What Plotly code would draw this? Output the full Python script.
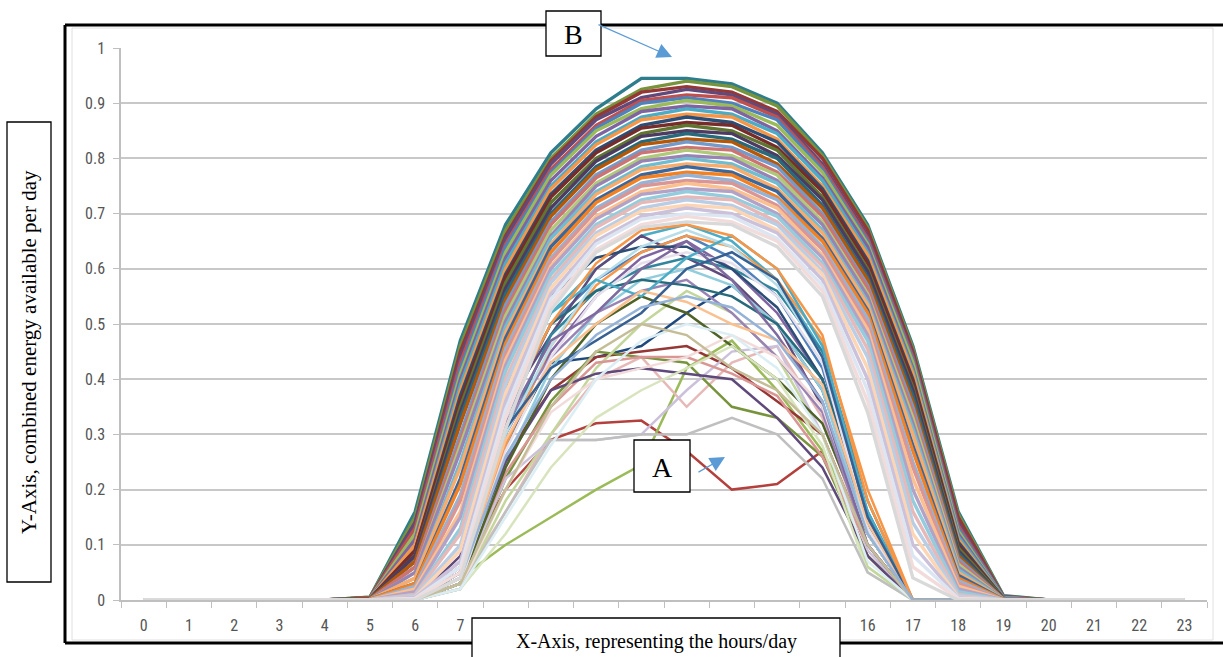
import plotly.graph_objects as go

# ---------------- data ----------------
hours = [str(h) for h in range(24)]
y_ticks = [0, 0.1, 0.2, 0.3, 0.4, 0.5, 0.6, 0.7, 0.8, 0.9, 1]

# values for hours 5..19 (zero before hour 5 and after hour 19)
band_days = [
    [0.005, 0.16, 0.47, 0.68, 0.81, 0.89, 0.945, 0.945, 0.935, 0.90, 0.81, 0.68, 0.46, 0.16, 0.008],
    [0.005, 0.15, 0.46, 0.67, 0.80, 0.88, 0.925, 0.94, 0.93, 0.895, 0.805, 0.675, 0.455, 0.155, 0.007],
    [0.004, 0.14, 0.45, 0.66, 0.795, 0.875, 0.92, 0.93, 0.92, 0.885, 0.80, 0.67, 0.45, 0.15, 0.006],
    [0.004, 0.14, 0.44, 0.655, 0.79, 0.87, 0.91, 0.925, 0.915, 0.88, 0.79, 0.66, 0.445, 0.14, 0.006],
    [0.004, 0.13, 0.43, 0.645, 0.78, 0.86, 0.905, 0.915, 0.91, 0.875, 0.785, 0.655, 0.44, 0.135, 0.005],
    [0.003, 0.12, 0.42, 0.64, 0.775, 0.855, 0.90, 0.91, 0.90, 0.87, 0.78, 0.65, 0.435, 0.13, 0.005],
    [0.003, 0.12, 0.41, 0.63, 0.77, 0.85, 0.89, 0.905, 0.895, 0.86, 0.775, 0.645, 0.43, 0.125, 0.004],
    [0.003, 0.11, 0.40, 0.62, 0.76, 0.84, 0.885, 0.895, 0.89, 0.85, 0.765, 0.64, 0.42, 0.12, 0.004],
    [0.003, 0.10, 0.39, 0.61, 0.75, 0.83, 0.875, 0.89, 0.88, 0.845, 0.76, 0.63, 0.415, 0.115, 0.004],
    [0.002, 0.10, 0.38, 0.60, 0.745, 0.825, 0.87, 0.88, 0.875, 0.835, 0.75, 0.625, 0.41, 0.11, 0.003],
    [0.002, 0.09, 0.37, 0.59, 0.735, 0.815, 0.86, 0.875, 0.865, 0.83, 0.745, 0.615, 0.40, 0.105, 0.003],
    [0.002, 0.09, 0.36, 0.585, 0.73, 0.81, 0.855, 0.865, 0.86, 0.82, 0.74, 0.61, 0.395, 0.10, 0.003],
    [0.002, 0.08, 0.35, 0.575, 0.72, 0.80, 0.845, 0.86, 0.85, 0.815, 0.73, 0.60, 0.385, 0.095, 0.003],
    [0.002, 0.08, 0.34, 0.565, 0.71, 0.795, 0.84, 0.85, 0.845, 0.805, 0.725, 0.595, 0.38, 0.09, 0.002],
    [0.002, 0.07, 0.33, 0.555, 0.70, 0.785, 0.83, 0.845, 0.835, 0.80, 0.715, 0.585, 0.37, 0.085, 0.002],
    [0.002, 0.07, 0.32, 0.545, 0.695, 0.78, 0.825, 0.835, 0.83, 0.79, 0.71, 0.58, 0.36, 0.08, 0.002],
    [0.001, 0.06, 0.30, 0.535, 0.685, 0.77, 0.815, 0.83, 0.82, 0.785, 0.70, 0.57, 0.35, 0.075, 0.002],
    [0.001, 0.06, 0.29, 0.525, 0.68, 0.765, 0.81, 0.82, 0.815, 0.775, 0.695, 0.565, 0.34, 0.07, 0.002],
    [0.001, 0.05, 0.28, 0.515, 0.67, 0.755, 0.80, 0.815, 0.805, 0.77, 0.685, 0.555, 0.33, 0.065, 0.001],
    [0.001, 0.05, 0.27, 0.505, 0.66, 0.75, 0.795, 0.805, 0.80, 0.76, 0.68, 0.55, 0.32, 0.06, 0.001],
    [0.001, 0.04, 0.25, 0.495, 0.655, 0.74, 0.785, 0.80, 0.79, 0.755, 0.67, 0.54, 0.31, 0.055, 0.001],
    [0.001, 0.04, 0.24, 0.485, 0.645, 0.735, 0.78, 0.79, 0.785, 0.745, 0.665, 0.535, 0.30, 0.05, 0.001],
    [0.001, 0.03, 0.22, 0.475, 0.64, 0.725, 0.77, 0.785, 0.775, 0.74, 0.655, 0.525, 0.28, 0.045, 0.001],
    [0.001, 0.03, 0.21, 0.465, 0.63, 0.72, 0.765, 0.775, 0.77, 0.73, 0.65, 0.52, 0.27, 0.04, 0.001],
    [0.0, 0.025, 0.19, 0.455, 0.62, 0.71, 0.755, 0.77, 0.76, 0.725, 0.64, 0.51, 0.25, 0.035, 0.0],
    [0.0, 0.02, 0.18, 0.445, 0.615, 0.705, 0.75, 0.76, 0.755, 0.715, 0.635, 0.50, 0.24, 0.03, 0.0],
    [0.0, 0.02, 0.16, 0.435, 0.605, 0.695, 0.74, 0.755, 0.745, 0.71, 0.625, 0.49, 0.22, 0.025, 0.0],
    [0.0, 0.015, 0.15, 0.425, 0.60, 0.69, 0.735, 0.745, 0.74, 0.70, 0.62, 0.48, 0.20, 0.02, 0.0],
    [0.0, 0.01, 0.13, 0.415, 0.59, 0.68, 0.725, 0.74, 0.73, 0.695, 0.61, 0.47, 0.18, 0.015, 0.0],
    [0.0, 0.01, 0.12, 0.40, 0.58, 0.675, 0.72, 0.73, 0.725, 0.685, 0.605, 0.455, 0.16, 0.01, 0.0],
    [0.0, 0.008, 0.10, 0.39, 0.575, 0.665, 0.71, 0.725, 0.715, 0.68, 0.595, 0.44, 0.14, 0.008, 0.0],
    [0.0, 0.005, 0.09, 0.375, 0.565, 0.66, 0.705, 0.715, 0.71, 0.67, 0.59, 0.42, 0.12, 0.005, 0.0],
    [0.0, 0.005, 0.07, 0.36, 0.555, 0.65, 0.695, 0.71, 0.70, 0.665, 0.58, 0.40, 0.10, 0.004, 0.0],
    [0.0, 0.003, 0.06, 0.345, 0.545, 0.645, 0.69, 0.70, 0.695, 0.655, 0.57, 0.38, 0.08, 0.003, 0.0],
    [0.0, 0.002, 0.05, 0.33, 0.535, 0.635, 0.68, 0.695, 0.685, 0.65, 0.56, 0.36, 0.06, 0.002, 0.0],
    [0.0, 0.0, 0.04, 0.31, 0.525, 0.63, 0.675, 0.685, 0.68, 0.64, 0.55, 0.34, 0.04, 0.0, 0.0],
]
band_colors = [
    "#2E7D8C", "#77933C", "#953735", "#604A7B", "#C0504D", "#4F81BD",
    "#9BBB59", "#8064A2", "#4BACC6", "#F79646", "#2C4D75", "#772C2A",
    "#5F7530", "#4D3B62", "#276A7C", "#B65708", "#729ACA", "#CD7371",
    "#AFC97A", "#9983B5", "#6FBDD1", "#F9AB6B", "#3A679C", "#F38122",
    "#95B3D7", "#D99694", "#FAC090", "#B3A2C7", "#93CDDD", "#E6B9B8",
    "#B9CDE5", "#FCD5B5", "#CCC1DA", "#DCE6F2", "#F2DCDB", "#D9D9D9",
]

cloudy_days = [
    [0, 0, 0.05, 0.20, 0.29, 0.32, 0.325, 0.27, 0.20, 0.21, 0.27, 0.08, 0, 0, 0],
    [0, 0, 0.04, 0.10, 0.15, 0.20, 0.245, 0.42, 0.47, 0.38, 0.27, 0.12, 0, 0, 0],
    [0, 0, 0.03, 0.16, 0.30, 0.40, 0.44, 0.35, 0.43, 0.46, 0.33, 0.10, 0, 0, 0],
    [0, 0, 0.03, 0.28, 0.43, 0.44, 0.46, 0.52, 0.57, 0.50, 0.38, 0.14, 0, 0, 0],
    [0, 0, 0.06, 0.30, 0.45, 0.55, 0.62, 0.65, 0.60, 0.52, 0.40, 0.12, 0, 0, 0],
    [0, 0, 0.05, 0.35, 0.52, 0.60, 0.66, 0.68, 0.65, 0.58, 0.45, 0.15, 0, 0, 0],
    [0, 0, 0.03, 0.26, 0.38, 0.44, 0.45, 0.46, 0.42, 0.36, 0.30, 0.10, 0, 0, 0],
    [0, 0, 0.02, 0.22, 0.36, 0.45, 0.44, 0.43, 0.35, 0.33, 0.26, 0.08, 0, 0, 0],
    [0, 0, 0.05, 0.33, 0.50, 0.58, 0.63, 0.66, 0.62, 0.55, 0.42, 0.14, 0, 0, 0],
    [0, 0, 0.02, 0.18, 0.30, 0.42, 0.50, 0.56, 0.52, 0.44, 0.30, 0.06, 0, 0, 0],
    [0, 0, 0.08, 0.35, 0.48, 0.60, 0.66, 0.62, 0.58, 0.50, 0.35, 0.12, 0, 0, 0],
    [0, 0, 0.03, 0.22, 0.29, 0.29, 0.30, 0.38, 0.45, 0.46, 0.30, 0.09, 0, 0, 0],
    [0, 0, 0.04, 0.30, 0.48, 0.56, 0.60, 0.62, 0.60, 0.56, 0.45, 0.18, 0, 0, 0],
    [0, 0, 0.04, 0.28, 0.46, 0.57, 0.63, 0.66, 0.64, 0.58, 0.47, 0.20, 0, 0, 0],
    [0, 0, 0.03, 0.25, 0.42, 0.52, 0.58, 0.60, 0.57, 0.50, 0.38, 0.12, 0, 0, 0],
    [0, 0, 0.04, 0.23, 0.35, 0.43, 0.44, 0.44, 0.41, 0.37, 0.26, 0.10, 0, 0, 0],
    [0, 0, 0.05, 0.25, 0.38, 0.41, 0.42, 0.41, 0.40, 0.33, 0.24, 0.08, 0, 0, 0],
    [0, 0, 0.06, 0.38, 0.55, 0.62, 0.64, 0.64, 0.60, 0.53, 0.40, 0.14, 0, 0, 0],
    [0, 0, 0.03, 0.24, 0.40, 0.50, 0.55, 0.52, 0.46, 0.40, 0.32, 0.12, 0, 0, 0],
    [0, 0, 0.02, 0.12, 0.24, 0.33, 0.38, 0.42, 0.46, 0.40, 0.28, 0.05, 0, 0, 0],
    [0, 0, 0.07, 0.32, 0.44, 0.52, 0.56, 0.58, 0.52, 0.44, 0.34, 0.10, 0, 0, 0],
    [0, 0, 0.05, 0.34, 0.50, 0.56, 0.58, 0.57, 0.55, 0.50, 0.40, 0.16, 0, 0, 0],
    [0, 0, 0.02, 0.20, 0.34, 0.40, 0.42, 0.44, 0.48, 0.44, 0.35, 0.12, 0, 0, 0],
    [0, 0, 0.02, 0.16, 0.29, 0.29, 0.30, 0.30, 0.33, 0.30, 0.22, 0.05, 0, 0, 0],
    [0, 0, 0.04, 0.30, 0.46, 0.58, 0.64, 0.67, 0.64, 0.57, 0.44, 0.12, 0, 0, 0],
    [0, 0, 0.03, 0.27, 0.44, 0.55, 0.61, 0.63, 0.61, 0.55, 0.43, 0.13, 0, 0, 0],
    [0, 0, 0.06, 0.36, 0.52, 0.58, 0.55, 0.62, 0.66, 0.60, 0.46, 0.16, 0, 0, 0],
    [0, 0, 0.05, 0.32, 0.47, 0.52, 0.60, 0.65, 0.58, 0.48, 0.36, 0.10, 0, 0, 0],
    [0, 0, 0.04, 0.29, 0.43, 0.50, 0.56, 0.54, 0.50, 0.47, 0.39, 0.14, 0, 0, 0],
    [0, 0, 0.02, 0.15, 0.28, 0.40, 0.47, 0.50, 0.48, 0.42, 0.30, 0.07, 0, 0, 0],
    [0, 0, 0.05, 0.31, 0.42, 0.47, 0.52, 0.60, 0.63, 0.58, 0.44, 0.15, 0, 0, 0],
    [0, 0, 0.03, 0.20, 0.35, 0.45, 0.50, 0.48, 0.42, 0.38, 0.30, 0.10, 0, 0, 0],
    [0, 0, 0.06, 0.34, 0.50, 0.61, 0.67, 0.68, 0.66, 0.60, 0.48, 0.18, 0, 0, 0],
    [0, 0, 0.04, 0.26, 0.40, 0.48, 0.53, 0.55, 0.53, 0.47, 0.36, 0.12, 0, 0, 0],
]
cloudy_colors = [
    "#B3403D", "#9BBB59", "#E6B9B8", "#1F497D", "#8064A2", "#4BACC6",
    "#953735", "#77933C", "#4F81BD", "#C3D69B", "#604A7B", "#CCC1DA",
    "#31859C", "#F79646", "#93CDDD", "#D99694", "#5F497A", "#2C4D75",
    "#4F6228", "#D7E4BD", "#9983B5", "#276A7C", "#F2DCDB", "#BFBFBF",
    "#B7DEE8", "#E6E0EC", "#4BACC6", "#7F6A9F", "#FAC090", "#DBEEF4",
    "#376092", "#C4BD97", "#F79646", "#95B3D7",
]

# ---------------- figure ----------------
W, H = 1223, 657
L, R, T, B = 121, 1207, 48, 600  # plot area in pixels


def pxx(x):
    return (x - L) / (R - L)


def pxy(y):
    return (B - y) / (B - T)


def full_day(vals):
    return [0.0] * 5 + list(vals) + [0.0] * 4


fig = go.Figure()
for vals, col in zip(cloudy_days, cloudy_colors):
    fig.add_trace(go.Scatter(x=hours, y=full_day(vals), mode="lines",
                             line=dict(color=col, width=2.5), showlegend=False,
                             hoverinfo="skip"))
for vals, col in zip(band_days, band_colors):
    fig.add_trace(go.Scatter(x=hours, y=full_day(vals), mode="lines",
                             line=dict(color=col, width=3.4), showlegend=False,
                             hoverinfo="skip"))

tick_font = dict(family="Liberation Sans Narrow, Roboto Condensed, Roboto, Arial, sans-serif",
                 size=16, color="#555555")

fig.update_layout(
    width=W, height=H,
    margin=dict(l=L, r=W - R, t=T, b=H - B),
    paper_bgcolor="white", plot_bgcolor="white",
    showlegend=False,
    xaxis=dict(type="category", range=[-0.5, 23.5], tickson="boundaries",
               ticks="outside", ticklen=6, tickcolor="#BFBFBF",
               showline=True, linecolor="#BFBFBF", linewidth=1.5,
               showgrid=False, zeroline=False, tickfont=tick_font,
               ticklabelstandoff=10),
    yaxis=dict(range=[0, 1], tickvals=y_ticks, ticktext=[f"{v:g}" for v in y_ticks],
               ticks="outside", ticklen=6, tickcolor="#BFBFBF",
               showline=True, linecolor="#BFBFBF", linewidth=1.5,
               showgrid=True, gridcolor="#C8C8C8", gridwidth=1.5,
               zeroline=False, tickfont=tick_font, ticklabelstandoff=5),
)

shapes = []
# faint chart-area border
shapes.append(dict(type="rect", xref="paper", yref="paper",
                   x0=pxx(72), y0=pxy(28), x1=pxx(1213), y1=pxy(640),
                   line=dict(color="#E0E0E0", width=1), layer="below"))
# black outer frame (top, left, bottom)
for (x0, y0, x1, y1) in [(65, 25, 1230, 25), (65, 25, 65, 643), (65, 643, 1230, 643)]:
    shapes.append(dict(type="line", xref="paper", yref="paper",
                       x0=pxx(x0), y0=pxy(y0), x1=pxx(x1), y1=pxy(y1),
                       line=dict(color="black", width=3), layer="above"))
# white text boxes
for (x0, y0, x1, y1) in [(7, 122, 51, 582), (472, 618, 840, 670),
                         (546, 11, 601, 56), (634, 440, 690, 492)]:
    shapes.append(dict(type="rect", xref="paper", yref="paper",
                       x0=pxx(x0), y0=pxy(y0), x1=pxx(x1), y1=pxy(y1),
                       fillcolor="white", line=dict(color="black", width=1.3),
                       layer="above"))
fig.update_layout(shapes=shapes)

serif = "Liberation Serif, Times New Roman, serif"
ann = [
    dict(x=pxx(29), y=pxy(352), text="Y-Axis, combined energy available per day",
         textangle=-90, font=dict(family=serif, size=21, color="black")),
    dict(x=pxx(656), y=pxy(641), text="X-Axis, representing the hours/day",
         font=dict(family=serif, size=20, color="black")),
    dict(x=pxx(573), y=pxy(34), text="B", font=dict(family=serif, size=28, color="black")),
    dict(x=pxx(662), y=pxy(467), text="A", font=dict(family=serif, size=28, color="black")),
]
for a in ann:
    a.update(xref="paper", yref="paper", showarrow=False, xanchor="center", yanchor="middle")
arrows = [
    dict(x=pxx(672), y=pxy(57), ax=-75, ay=-33),
    dict(x=pxx(725), y=pxy(457), ax=-28, ay=16),
]
for a in arrows:
    a.update(xref="paper", yref="paper", text="", showarrow=True, arrowhead=2,
             arrowsize=2.5, arrowwidth=1.2, arrowcolor="#5B9BD5", standoff=0)
fig.update_layout(annotations=ann + arrows)

fig.write_html("out.html")
